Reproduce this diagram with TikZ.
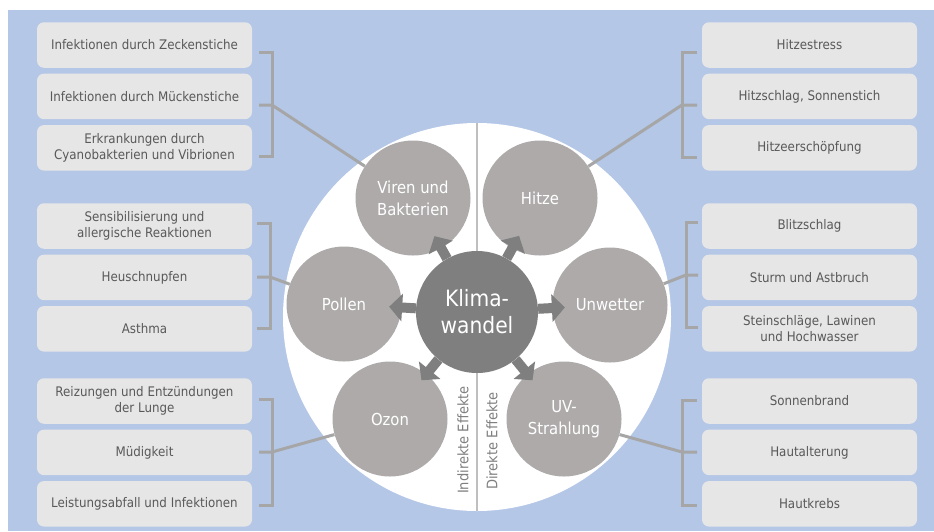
\documentclass[tikz,border=0pt]{standalone}
\usepackage{fontspec}
\setmainfont{DejaVu Sans Condensed}
\usepackage{xcolor}
\usepackage{tikz}
\usetikzlibrary{shapes,arrows.meta,positioning,calc}

\definecolor{hgblau}{HTML}{B4C7E7}
\definecolor{boxgrau}{HTML}{E7E6E6}
\definecolor{textgrau}{HTML}{595959}
\definecolor{kreisgrau}{HTML}{AEAAAA}
\definecolor{mittegrau}{HTML}{7F7F7F}
\definecolor{liniengrau}{HTML}{A6A6A6}
\definecolor{trenngrau}{HTML}{BFBFBF}

\begin{document}
\begin{tikzpicture}[
        x=1pt, y=-1pt,
        node distance=5.5pt,
        effekt/.style={rectangle, fill=boxgrau, rounded corners=7pt, minimum width=215pt, minimum height=45.5pt, align=center, text=textgrau, font=\fontsize{13.2}{16.5}\selectfont},
        ursache/.style={circle, fill=kreisgrau, minimum size=115pt, inner sep=0pt, align=center, text=white, font=\fontsize{16.5}{22}\selectfont},
        mitte/.style={circle, fill=mittegrau, minimum size=122pt, inner sep=0pt, align=center, text=white, font=\fontsize{22.5}{27}\selectfont},
        pfeil/.style={draw=mittegrau, line width=10pt, -{Triangle[width=27pt,length=13pt]}},
        klammer/.style={draw=liniengrau, line width=3pt},
        ebene/.style={rotate=90, text=mittegrau, font=\fontsize{14.5}{16}\selectfont}
    ]
        \useasboundingbox (0,0) rectangle (934,531);
        \fill[hgblau] (8,10) rectangle (934,531);
        \node[circle, fill=white, minimum size=388pt, inner sep=0pt] (kreis) at (477,317) {};
        \draw[trenngrau, line width=2pt] (kreis.north) -- (kreis.south);

        \node[mitte] (klima) at (477,312) {Klima-\\wandel};
        \node[ursache] (viren) at (413,198) {Viren und\\Bakterien};
        \node[ursache] (hitze) at (540,198) {Hitze};
        \node[ursache] (pollen) at (344,304) {Pollen};
        \node[ursache] (unwetter) at (610,305) {Unwetter};
        \node[ursache] (ozon) at (390,419) {Ozon};
        \node[ursache] (uv) at (564,419) {UV-\\Strahlung};

        \draw[pfeil] (klima) -- ($(klima)!87pt!(viren)$);
        \draw[pfeil] (klima) -- ($(klima)!87pt!(hitze)$);
        \draw[pfeil] (klima) -- ($(klima)!88pt!(pollen)$);
        \draw[pfeil] (klima) -- ($(klima)!88pt!(unwetter)$);
        \draw[pfeil] (klima) -- ($(klima)!88pt!(ozon)$);
        \draw[pfeil] (klima) -- ($(klima)!88pt!(uv)$);

        \node[ebene] (indirekt) at (463,440) {Indirekte Effekte};
        \node[ebene] (direkt) at (492,441) {Direkte Effekte};

        \node[effekt] (zecken) at (144.5,45) {Infektionen durch Zeckenstiche};
        \node[effekt, below=of zecken] (muecken) {Infektionen durch Mückenstiche};
        \node[effekt, below=of muecken] (cyano) {Erkrankungen durch\\Cyanobakterien und Vibrionen};

        \node[effekt] (sensib) at (144.5,226) {Sensibilisierung und\\allergische Reaktionen};
        \node[effekt, below=of sensib] (heuschnupfen) {Heuschnupfen};
        \node[effekt, below=of heuschnupfen] (asthma) {Asthma};

        \node[effekt] (lunge) at (144.5,401) {Reizungen und Entzündungen\\der Lunge};
        \node[effekt, below=of lunge] (muedigkeit) {Müdigkeit};
        \node[effekt, below=of muedigkeit] (leistung) {Leistungsabfall und Infektionen};

        \node[effekt] (stress) at (809.5,45) {Hitzestress};
        \node[effekt, below=of stress] (hitzschlag) {Hitzschlag, Sonnenstich};
        \node[effekt, below=of hitzschlag] (erschoepfung) {Hitzeerschöpfung};

        \node[effekt] (blitz) at (809.5,226) {Blitzschlag};
        \node[effekt, below=of blitz] (sturm) {Sturm und Astbruch};
        \node[effekt, below=of sturm] (stein) {Steinschläge, Lawinen\\und Hochwasser};

        \node[effekt] (sonnenbrand) at (809.5,401) {Sonnenbrand};
        \node[effekt, below=of sonnenbrand] (alterung) {Hautalterung};
        \node[effekt, below=of alterung] (krebs) {Hautkrebs};

        \coordinate (kviren) at (272,105);
        \coordinate (kpollen) at (270,277);
        \coordinate (kozon) at (272,452);
        \coordinate (khitze) at (682,105);
        \coordinate (kunwetter) at (686,275);
        \coordinate (kuv) at (682,452);

        \draw[klammer] (259,52) -- (272,52) -- (272,156) -- (259,156);
        \draw[klammer] (259,105) -- (kviren) -- (viren);
        \draw[klammer] (257,223) -- (270,223) -- (270,328) -- (257,328);
        \draw[klammer] (257,277) -- (kpollen) -- (pollen);
        \draw[klammer] (259,399) -- (272,399) -- (272,505) -- (259,505);
        \draw[klammer] (259,452) -- (kozon) -- (ozon);

        \draw[klammer] (697,52) -- (682,52) -- (682,157) -- (697,157);
        \draw[klammer] (697,105) -- (khitze) -- (hitze);
        \draw[klammer] (698,222) -- (686,222) -- (686,327) -- (698,327);
        \draw[klammer] (698,275) -- (kunwetter) -- (unwetter);
        \draw[klammer] (697,400) -- (682,400) -- (682,505) -- (697,505);
        \draw[klammer] (697,452) -- (kuv) -- (uv);
    \end{tikzpicture}
\end{document}
